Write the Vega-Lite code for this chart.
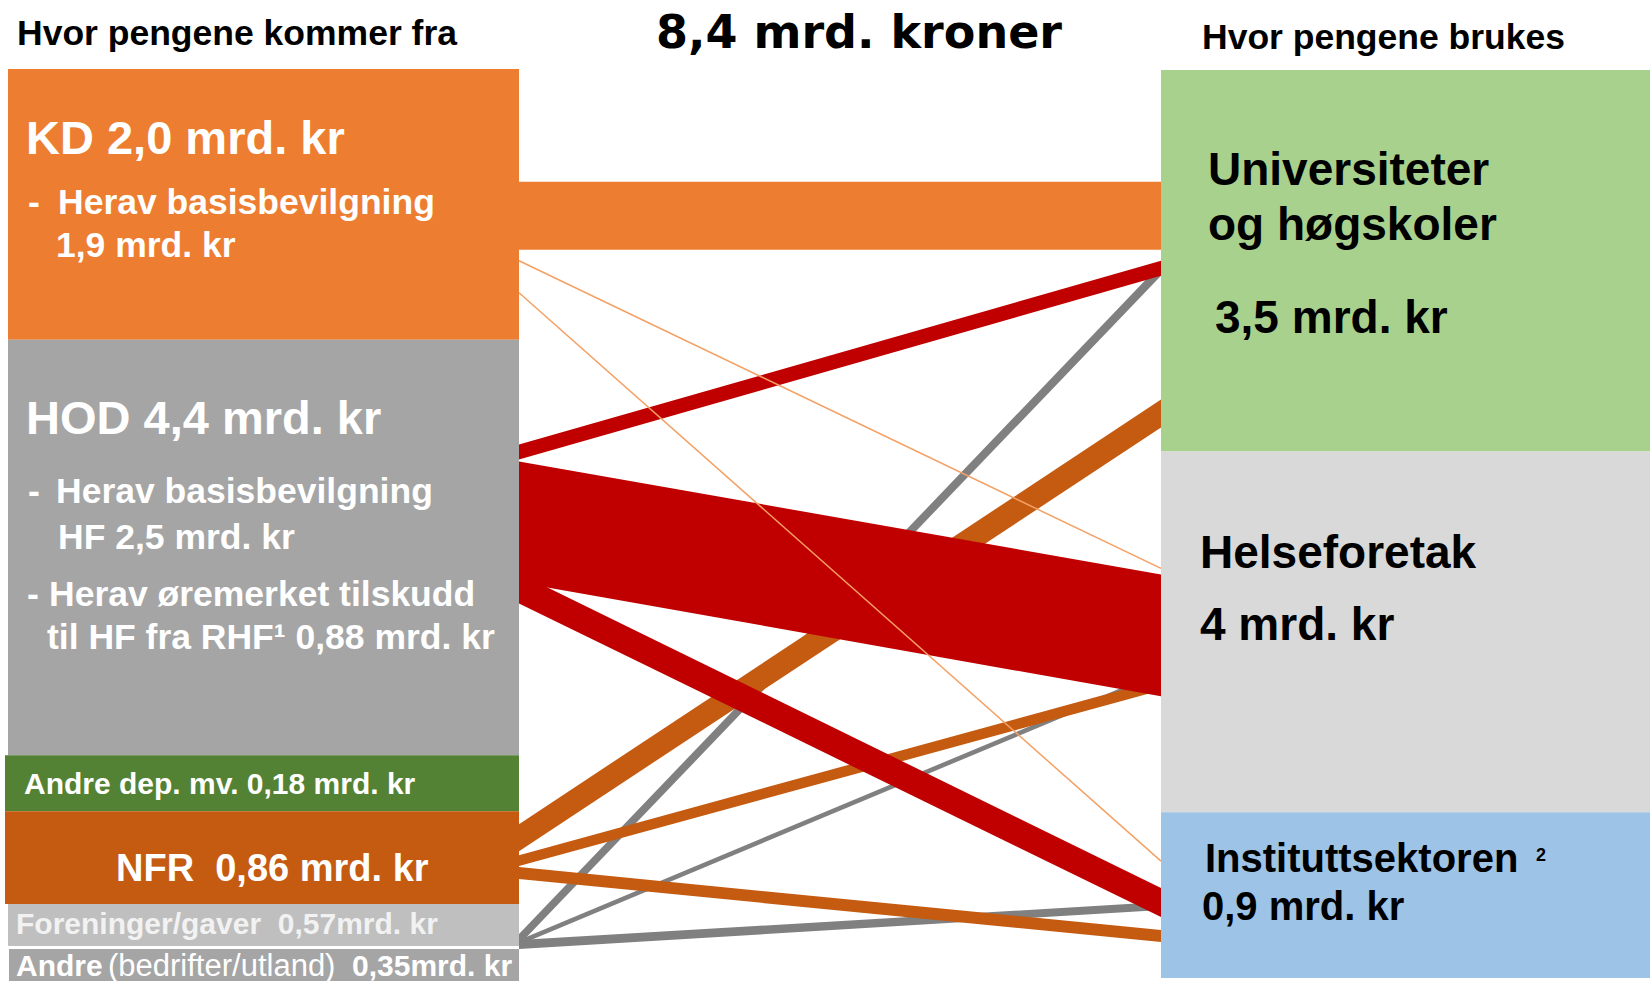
{
  "$schema": "https://vega.github.io/schema/vega-lite/v6.json",
  "width": 1650,
  "height": 982,
  "autosize": {"type": "fit", "contains": "padding"},
  "padding": 0,
  "background": "white",
  "config": {"view": {"stroke": null}},
  "datasets": {
    "boxes": [
      {"node": "KD", "x0": 8, "x1": 519, "y0": 69, "y1": 340},
      {"node": "HOD", "x0": 8, "x1": 519, "y0": 340, "y1": 756},
      {"node": "Andre dep.", "x0": 5, "x1": 519, "y0": 756, "y1": 812},
      {"node": "NFR", "x0": 5, "x1": 519, "y0": 812, "y1": 905},
      {"node": "Foreninger/gaver", "x0": 8, "x1": 519, "y0": 905, "y1": 947},
      {"node": "Andre", "x0": 9, "x1": 519, "y0": 950, "y1": 982},
      {"node": "Universiteter og høgskoler", "x0": 1161, "x1": 1650, "y0": 70, "y1": 452},
      {"node": "Helseforetak", "x0": 1161, "x1": 1650, "y0": 452, "y1": 813},
      {"node": "Instituttsektoren", "x0": 1161, "x1": 1650, "y0": 813, "y1": 979}
    ],
    "bands": [
      {"flow": "KD-UH", "kind": "KD", "x": 519, "lo": 182, "hi": 250},
      {"flow": "KD-UH", "kind": "KD", "x": 1161, "lo": 182, "hi": 250},
      {"flow": "G-UH", "kind": "Gaver", "x": 519, "lo": 935, "hi": 946},
      {"flow": "G-UH", "kind": "Gaver", "x": 1161, "lo": 264, "hi": 276},
      {"flow": "G-HF", "kind": "Gaver", "x": 519, "lo": 941, "hi": 946},
      {"flow": "G-HF", "kind": "Gaver", "x": 1161, "lo": 672, "hi": 677},
      {"flow": "G-IS", "kind": "Gaver", "x": 519, "lo": 941, "hi": 950},
      {"flow": "G-IS", "kind": "Gaver", "x": 1161, "lo": 903, "hi": 911},
      {"flow": "N-UH", "kind": "NFR", "x": 519, "lo": 825, "hi": 852},
      {"flow": "N-UH", "kind": "NFR", "x": 1161, "lo": 400, "hi": 428},
      {"flow": "N-HF", "kind": "NFR", "x": 519, "lo": 856, "hi": 867},
      {"flow": "N-HF", "kind": "NFR", "x": 1161, "lo": 680, "hi": 691},
      {"flow": "N-IS", "kind": "NFR", "x": 519, "lo": 868, "hi": 880},
      {"flow": "N-IS", "kind": "NFR", "x": 1161, "lo": 931, "hi": 943},
      {"flow": "H-UH", "kind": "HOD", "x": 519, "lo": 445, "hi": 460},
      {"flow": "H-UH", "kind": "HOD", "x": 1161, "lo": 261, "hi": 276},
      {"flow": "H-HF", "kind": "HOD", "x": 519, "lo": 462, "hi": 583},
      {"flow": "H-HF", "kind": "HOD", "x": 1161, "lo": 575, "hi": 697},
      {"flow": "H-IS", "kind": "HOD", "x": 519, "lo": 574, "hi": 604},
      {"flow": "H-IS", "kind": "HOD", "x": 1161, "lo": 889, "hi": 918}
    ],
    "thin": [
      {"flow": "KD-HF", "x": 519, "y": 261},
      {"flow": "KD-HF", "x": 1161, "y": 569},
      {"flow": "KD-IS", "x": 519, "y": 293},
      {"flow": "KD-IS", "x": 1161, "y": 862}
    ],
    "texts": [
      {"s": "head", "t": "Hvor pengene kommer fra", "x": 17, "y": 45},
      {"s": "head", "t": "Hvor pengene brukes", "x": 1202, "y": 49},
      {"s": "title", "t": "8,4 mrd. kroner", "x": 859, "y": 48},
      {"s": "big", "t": "KD 2,0 mrd. kr", "x": 26, "y": 154},
      {"s": "mid", "t": "-", "x": 28, "y": 214},
      {"s": "mid", "t": "Herav basisbevilgning", "x": 58, "y": 214},
      {"s": "mid", "t": "1,9 mrd. kr", "x": 56, "y": 257},
      {"s": "big", "t": "HOD 4,4 mrd. kr", "x": 26, "y": 434},
      {"s": "mid", "t": "-", "x": 28, "y": 504},
      {"s": "mid", "t": "Herav basisbevilgning", "x": 56, "y": 504},
      {"s": "mid", "t": "HF 2,5 mrd. kr", "x": 58, "y": 550},
      {"s": "mid", "t": "-", "x": 27, "y": 607},
      {"s": "mid", "t": "Herav øremerket tilskudd", "x": 49, "y": 607},
      {"s": "mid", "t": "til HF fra RHF¹ 0,88 mrd. kr", "x": 47, "y": 650},
      {"s": "small", "t": "Andre dep. mv. 0,18 mrd. kr", "x": 24, "y": 795},
      {"s": "nfr", "t": "NFR\u00a0\u00a00,86 mrd. kr", "x": 116, "y": 882},
      {"s": "fore", "t": "Foreninger/gaver\u00a0\u00a00,57mrd. kr", "x": 16, "y": 935},
      {"s": "small", "t": "Andre", "x": 16, "y": 977},
      {"s": "reg", "t": "(bedrifter/utland)", "x": 108, "y": 977},
      {"s": "small", "t": "0,35mrd. kr", "x": 352, "y": 977},
      {"s": "right", "t": "Universiteter", "x": 1208, "y": 185},
      {"s": "right", "t": "og høgskoler", "x": 1208, "y": 240},
      {"s": "right", "t": "3,5 mrd. kr", "x": 1215, "y": 333},
      {"s": "right", "t": "Helseforetak", "x": 1200, "y": 569},
      {"s": "right", "t": "4 mrd. kr", "x": 1200, "y": 641},
      {"s": "right2", "t": "Instituttsektoren", "x": 1205, "y": 873},
      {"s": "sup", "t": "2", "x": 1536, "y": 862},
      {"s": "right2", "t": "0,9 mrd. kr", "x": 1202, "y": 921}
    ]
  },
  "encoding": {
    "x": {"field": "x", "type": "quantitative", "scale": {"domain": [0, 1650], "nice": false, "zero": false}, "axis": null},
    "y": {"field": "y", "type": "quantitative", "scale": {"domain": [0, 982], "reverse": true, "nice": false, "zero": false}, "axis": null}
  },
  "layer": [
    {
      "data": {"name": "boxes"},
      "mark": {"type": "rect"},
      "encoding": {
        "x": {"field": "x0", "type": "quantitative"},
        "x2": {"field": "x1"},
        "y": {"field": "y0", "type": "quantitative"},
        "y2": {"field": "y1"},
        "color": {
          "field": "node", "type": "nominal", "legend": null,
          "scale": {
            "domain": ["KD", "HOD", "Andre dep.", "NFR", "Foreninger/gaver", "Andre", "Universiteter og høgskoler", "Helseforetak", "Instituttsektoren"],
            "range": ["#ed7d31", "#a5a5a5", "#548235", "#c55a11", "#bfbfbf", "#a5a5a5", "#a9d18e", "#d9d9d9", "#9dc3e6"]
          }
        }
      }
    },
    {
      "data": {"name": "bands"},
      "transform": [{"filter": "datum.kind === 'KD'"}],
      "mark": {"type": "area", "color": "#ed7d31", "interpolate": "linear"},
      "encoding": {
        "y": {"field": "lo", "type": "quantitative", "stack": null},
        "y2": {"field": "hi"},
        "detail": {"field": "flow"}
      }
    },
    {
      "data": {"name": "bands"},
      "transform": [{"filter": "datum.kind === 'Gaver'"}],
      "mark": {"type": "area", "color": "#808080", "interpolate": "linear"},
      "encoding": {
        "y": {"field": "lo", "type": "quantitative", "stack": null},
        "y2": {"field": "hi"},
        "detail": {"field": "flow"}
      }
    },
    {
      "data": {"name": "bands"},
      "transform": [{"filter": "datum.kind === 'NFR'"}],
      "mark": {"type": "area", "color": "#c55a11", "interpolate": "linear"},
      "encoding": {
        "y": {"field": "lo", "type": "quantitative", "stack": null},
        "y2": {"field": "hi"},
        "detail": {"field": "flow"}
      }
    },
    {
      "data": {"name": "bands"},
      "transform": [{"filter": "datum.kind === 'HOD'"}],
      "mark": {"type": "area", "color": "#c00000", "interpolate": "linear"},
      "encoding": {
        "y": {"field": "lo", "type": "quantitative", "stack": null},
        "y2": {"field": "hi"},
        "detail": {"field": "flow"}
      }
    },
    {
      "data": {"name": "thin"},
      "mark": {"type": "line", "color": "#f4a064", "strokeWidth": 1.5},
      "encoding": {"detail": {"field": "flow"}}
    },
    {
      "data": {"name": "texts"},
      "transform": [{"filter": "datum.s === 'head'"}],
      "mark": {"type": "text", "align": "left", "baseline": "alphabetic", "font": "Liberation Sans", "fontWeight": "bold", "fontSize": 35.5, "color": "#000000"},
      "encoding": {"text": {"field": "t"}}
    },
    {
      "data": {"name": "texts"},
      "transform": [{"filter": "datum.s === 'title'"}],
      "mark": {"type": "text", "align": "center", "baseline": "alphabetic", "font": "DejaVu Sans", "fontWeight": "bold", "fontSize": 46, "color": "#000000"},
      "encoding": {"text": {"field": "t"}}
    },
    {
      "data": {"name": "texts"},
      "transform": [{"filter": "datum.s === 'big'"}],
      "mark": {"type": "text", "align": "left", "baseline": "alphabetic", "font": "Liberation Sans", "fontWeight": "bold", "fontSize": 47, "color": "#ffffff"},
      "encoding": {"text": {"field": "t"}}
    },
    {
      "data": {"name": "texts"},
      "transform": [{"filter": "datum.s === 'mid'"}],
      "mark": {"type": "text", "align": "left", "baseline": "alphabetic", "font": "Liberation Sans", "fontWeight": "bold", "fontSize": 35.5, "color": "#ffffff"},
      "encoding": {"text": {"field": "t"}}
    },
    {
      "data": {"name": "texts"},
      "transform": [{"filter": "datum.s === 'small'"}],
      "mark": {"type": "text", "align": "left", "baseline": "alphabetic", "font": "Liberation Sans", "fontWeight": "bold", "fontSize": 30, "color": "#ffffff"},
      "encoding": {"text": {"field": "t"}}
    },
    {
      "data": {"name": "texts"},
      "transform": [{"filter": "datum.s === 'reg'"}],
      "mark": {"type": "text", "align": "left", "baseline": "alphabetic", "font": "Liberation Sans", "fontWeight": "normal", "fontSize": 31, "color": "#ffffff"},
      "encoding": {"text": {"field": "t"}}
    },
    {
      "data": {"name": "texts"},
      "transform": [{"filter": "datum.s === 'nfr'"}],
      "mark": {"type": "text", "align": "left", "baseline": "alphabetic", "font": "Liberation Sans", "fontWeight": "bold", "fontSize": 38, "color": "#ffffff"},
      "encoding": {"text": {"field": "t"}}
    },
    {
      "data": {"name": "texts"},
      "transform": [{"filter": "datum.s === 'fore'"}],
      "mark": {"type": "text", "align": "left", "baseline": "alphabetic", "font": "Liberation Sans", "fontWeight": "bold", "fontSize": 30, "color": "#f2f2f2"},
      "encoding": {"text": {"field": "t"}}
    },
    {
      "data": {"name": "texts"},
      "transform": [{"filter": "datum.s === 'right'"}],
      "mark": {"type": "text", "align": "left", "baseline": "alphabetic", "font": "Liberation Sans", "fontWeight": "bold", "fontSize": 46, "color": "#000000"},
      "encoding": {"text": {"field": "t"}}
    },
    {
      "data": {"name": "texts"},
      "transform": [{"filter": "datum.s === 'right2'"}],
      "mark": {"type": "text", "align": "left", "baseline": "alphabetic", "font": "Liberation Sans", "fontWeight": "bold", "fontSize": 40, "color": "#000000"},
      "encoding": {"text": {"field": "t"}}
    },
    {
      "data": {"name": "texts"},
      "transform": [{"filter": "datum.s === 'sup'"}],
      "mark": {"type": "text", "align": "left", "baseline": "alphabetic", "font": "Liberation Sans", "fontWeight": "bold", "fontSize": 18, "color": "#000000"},
      "encoding": {"text": {"field": "t"}}
    }
  ]
}
